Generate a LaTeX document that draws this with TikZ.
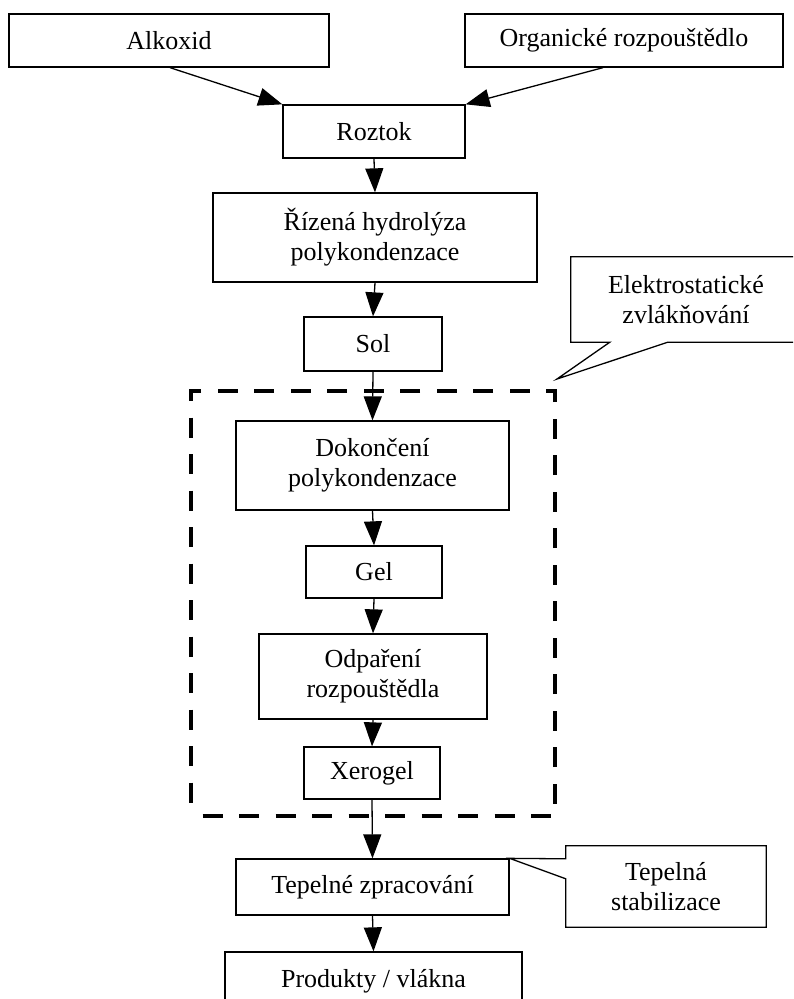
\documentclass[tikz,border=0pt]{standalone}
\usepackage{fontspec}
\setmainfont{Liberation Serif}
\usetikzlibrary{arrows.meta,calc}
\begin{document}
\begin{tikzpicture}[x=1pt,y=-1pt,
  txt/.style={inner sep=0pt,align=center,font=\fontsize{26}{30}\selectfont},
  box/.style={txt,draw,line width=1.3pt,rectangle},
  arr/.style={line width=1.3pt,-{Triangle[length=24pt,width=18pt]}},
  callout/.style={line width=1.3pt,line join=miter},
  group/.style={draw,line width=4.5pt,dash pattern=on 20pt off 16.5pt,dash phase=25pt,rectangle,inner sep=0pt}]
\useasboundingbox (0,0) rectangle (793,999);
\clip (0,0) rectangle (793,999);

% group frame
\node[group,minimum width=364pt,minimum height=425pt] (grp) at (373,603.5) {};

% boxes
\node[box,minimum width=320pt,minimum height=53pt] (alk) at (169,40.5) {Alkoxid};
\node[box,minimum width=318pt,minimum height=53pt] (org) at (624,40.5) {Organické rozpouštědlo};
\node[box,minimum width=182pt,minimum height=53pt] (roz) at (374,131.5) {Roztok};
\node[box,minimum width=324pt,minimum height=89pt] (riz) at (375,237.5) {Řízená hydrolýza\\polykondenzace};
\node[box,minimum width=138pt,minimum height=54pt] (sol) at (373,344) {Sol};
\node[box,minimum width=273pt,minimum height=89pt] (dok) at (372.5,465.5) {Dokončení\\polykondenzace};
\node[box,minimum width=136pt,minimum height=52pt] (gel) at (374,572) {Gel};
\node[box,minimum width=228pt,minimum height=85pt] (odp) at (373,676.5) {Odpaření\\rozpouštědla};
\node[box,minimum width=136pt,minimum height=52pt] (xer) at (372,773) {Xerogel};
\node[box,minimum width=273pt,minimum height=56pt] (tep) at (372.5,887) {Tepelné zpracování};
\node[box,minimum width=297pt,minimum height=58pt] (prod) at (373.5,981) {Produkty / vlákna};

% callouts
\node[txt,minimum width=230pt,minimum height=85pt] (elek) at (686,299.5) {Elektrostatické\\zvlákňování};
\coordinate (etip) at (557,379);
\draw[callout] (elek.north west) -- (elek.north east) -- (elek.south east)
  -- ($(elek.south west)+(97,0)$) -- (etip) -- ($(elek.south west)+(39,0)$) -- (elek.south west) -- cycle;

\node[txt,minimum width=200pt,minimum height=81pt] (stab) at (666,886.5) {Tepelná\\stabilizace};
\draw[callout] (stab.north west) -- (stab.north east) -- (stab.south east) -- (stab.south west)
  -- ($(stab.north west)+(0,33)$) -- (tep.north east) -- ($(stab.north west)+(0,13)$) -- cycle;

% arrows
\draw[arr] ($(alk.south)+(1,0)$) -- (roz.north west);
\draw[arr] ($(org.south)+(-21,0)$) -- (roz.north east);
\draw[arr] (roz.south) -- (riz.north);
\draw[arr] (riz.south) -- (sol.north);
\draw[arr] (sol.south) -- (dok.north);
\draw[arr] (dok.south) -- (gel.north);
\draw[arr] (gel.south) -- (odp.north);
\draw[arr] (odp.south) -- (xer.north);
\draw[arr] (xer.south) -- (tep.north);
\draw[arr] (tep.south) -- (prod.north);
\end{tikzpicture}
\end{document}
